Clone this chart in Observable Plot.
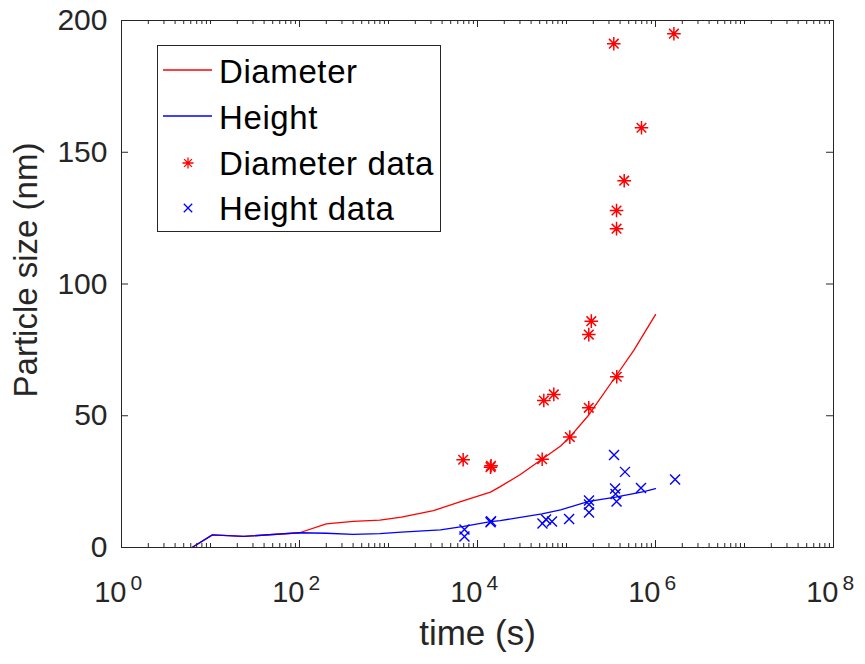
<!DOCTYPE html>
<html><head><meta charset="utf-8">
<script src="https://cdn.jsdelivr.net/npm/d3@7"></script>
<script src="https://cdn.jsdelivr.net/npm/@observablehq/plot@0.6"></script>
<style>body{margin:0;background:#fff}#chart{position:relative;width:865px;height:664px}</style>
</head><body><div id="chart"></div>
<script>
// ---- Data ----
const diameterLineTime  = [6.2, 10.5, 23.5, 100, 200, 400, 800, 1400, 3200, 7000, 14000, 18000, 30000, 53000, 86000, 109000, 178000, 355000, 570000, 1000000];
const diameterLineValue = [0,   4.8,  4.2,  5.6, 9.0, 9.9, 10.4, 11.5, 14.0, 17.8, 21.0, 23.1, 27.6, 33.5, 38.5, 41.9, 50.3, 64.8, 74.8, 88.4];
const heightLineTime    = [6.2, 10.5, 23.5, 100, 200, 400, 800, 1400, 3840, 7000, 14000, 18000, 53000, 86000, 178000, 355000, 740000, 1000000];
const heightLineValue   = [0,   4.8,  4.2,  5.6, 5.4, 5.0, 5.3, 5.8,  6.7,  8.0,  9.8,  10.2, 12.8, 14.3, 17.5, 19.1, 21.2, 22.3];

const diameterDataTime  = [6900, 14000, 14200, 53300, 55600, 72000, 109000, 178000, 178000, 190000, 340000, 367000, 365000, 365000, 445000, 696000, 1610000];
const diameterDataValue = [33.3, 30.5,  31.0,  33.5,  55.8,  58.1,  41.9,   53.0,   80.8,   85.9,   191.2,  64.8,   127.9,  121.0,  139.2,  159.3,  195.0];

const heightDataTime  = [7140, 7140, 14000, 14200, 53700, 58900, 68700, 107000, 179000, 179000, 179000, 342000, 351000, 356000, 365000, 454000, 687000, 1660000];
const heightDataValue = [6.8,  4.2,  9.6,   10.0,  9.1,   10.6,  9.9,   10.8,   17.8,   16.3,   13.3,   35.1,   22.4,   20.3,   17.5,   28.7,   22.6,   25.8];

const yTickValues = [0, 50, 100, 150, 200];
const xLabelExponents = [0, 2, 4, 6, 8];
const legendLabels = ["Diameter", "Height", "Diameter data", "Height data"];

// ---- Tables ----
const zipT = (t, v) => t.map((d, i) => ({t: d, v: v[i]}));
const diamLine = zipT(diameterLineTime, diameterLineValue);
const heightLine = zipT(heightLineTime, heightLineValue);
const diamData = zipT(diameterDataTime, diameterDataValue);
const heightData = zipT(heightDataTime, heightDataValue);

const majorX = xLabelExponents.map(e => 10 ** e);
const minorX = [];
for (let k = 0; k < 8; k++) {
  for (let m = 2; m <= 9; m++) minorX.push(m * 10 ** k);
  if (k % 2 === 1) minorX.push(10 ** k);
}

// ---- Custom symbols ----
const asterisk8 = {draw(ctx, size) {
  const r = Math.sqrt(size / Math.PI), d = r * Math.SQRT1_2;
  ctx.moveTo(-r, 0); ctx.lineTo(r, 0);
  ctx.moveTo(0, -r); ctx.lineTo(0, r);
  ctx.moveTo(-d, -d); ctx.lineTo(d, d);
  ctx.moveTo(-d, d); ctx.lineTo(d, -d);
}};
const cross = {draw(ctx, size) {
  const r = Math.sqrt(size / Math.PI);
  ctx.moveTo(-r, -r); ctx.lineTo(r, r);
  ctx.moveTo(-r, r); ctx.lineTo(r, -r);
}};

const W = 865, H = 664, mL = 121, mR = 32, mT = 20, mB = 117;
const iw = W - mL - mR, ih = H - mT - mB;
const axisColor = "#262626";
const RED = "#ff0000", BLUE = "#0000ff";
const font = "Liberation Sans, Arial, Helvetica, sans-serif";

const plot = Plot.plot({
  width: W, height: H,
  marginLeft: mL, marginRight: mR, marginTop: mT, marginBottom: mB,
  style: {fontFamily: font, background: "white", overflow: "visible"},
  x: {type: "log", domain: [1, 1e8], axis: null},
  y: {domain: [0, 200], axis: null},
  marks: [
    // data
    Plot.line(diamLine, {x: "t", y: "v", stroke: RED, strokeWidth: 1.3}),
    Plot.line(heightLine, {x: "t", y: "v", stroke: BLUE, strokeWidth: 1.3}),
    Plot.dot(diamData, {x: "t", y: "v", symbol: asterisk8, r: 6.8, stroke: RED, fill: "none", strokeWidth: 1.5}),
    Plot.dot(heightData, {x: "t", y: "v", symbol: cross, r: 5, stroke: BLUE, fill: "none", strokeWidth: 1.4}),
    // ticks (inward, both sides)
    Plot.tickX(majorX, {x: d => d, insetTop: ih - 7, stroke: axisColor, strokeWidth: 1}),
    Plot.tickX(majorX, {x: d => d, insetBottom: ih - 7, stroke: axisColor, strokeWidth: 1}),
    Plot.tickX(minorX, {x: d => d, insetTop: ih - 4, stroke: axisColor, strokeWidth: 1}),
    Plot.tickX(minorX, {x: d => d, insetBottom: ih - 4, stroke: axisColor, strokeWidth: 1}),
    Plot.tickY(yTickValues, {y: d => d, insetRight: iw - 7, stroke: axisColor, strokeWidth: 1}),
    Plot.tickY(yTickValues, {y: d => d, insetLeft: iw - 7, stroke: axisColor, strokeWidth: 1}),
    Plot.frame({stroke: axisColor, strokeWidth: 1}),
    // tick labels
    Plot.text(yTickValues, {y: d => d, frameAnchor: "left", text: d => String(d), textAnchor: "end", dx: -14, fontSize: 30, fill: axisColor}),
    Plot.text(majorX, {x: d => d, frameAnchor: "bottom", text: () => "10", textAnchor: "end", lineAnchor: "top", dx: 5, dy: 34, fontSize: 29, fill: axisColor}),
    Plot.text(xLabelExponents, {x: e => 10 ** e, frameAnchor: "bottom", text: e => String(e), textAnchor: "start", lineAnchor: "top", dx: 9, dy: 28, fontSize: 21, fill: axisColor}),
    // axis labels
    Plot.text(["time (s)"], {frameAnchor: "bottom", text: d => d, textAnchor: "middle", lineAnchor: "top", dy: 73, fontSize: 35, fill: axisColor}),
    Plot.text(["Particle size (nm)"], {frameAnchor: "left", text: d => d, textAnchor: "middle", rotate: -90, dx: -95, dy: -14, fontSize: 33, fill: axisColor})
  ]
});

document.getElementById("chart").appendChild(plot);

// ---- Legend (drawn into the same SVG) ----
const svg = d3.select(plot);
const lg = svg.append("g").attr("font-family", font).attr("text-anchor", "start");
lg.append("rect").attr("x", 157.5).attr("y", 45.5).attr("width", 283).attr("height", 186)
  .attr("fill", "white").attr("stroke", axisColor).attr("stroke-width", 1);
const rows = [71, 117, 163, 208];
const colors = [RED, BLUE, RED, BLUE];
legendLabels.forEach((label, i) => {
  const y = rows[i];
  if (i < 2) {
    lg.append("line").attr("x1", 163).attr("x2", 212).attr("y1", y - 1).attr("y2", y - 1)
      .attr("stroke", colors[i]).attr("stroke-width", 1.3);
  } else {
    const sym = i === 2 ? asterisk8 : cross;
    const r = i === 2 ? 5.5 : 4.2;
    lg.append("path").attr("transform", `translate(188,${y})`)
      .attr("d", d3.symbol(sym, Math.PI * r * r)())
      .attr("stroke", colors[i]).attr("fill", "none").attr("stroke-width", 1.3);
  }
  lg.append("text").attr("x", 219).attr("y", y).attr("dy", "0.35em")
    .attr("text-anchor", "start").attr("letter-spacing", "0.6px")
    .attr("font-size", 33).attr("fill", "#000").text(label);
});
</script>
</body></html>
